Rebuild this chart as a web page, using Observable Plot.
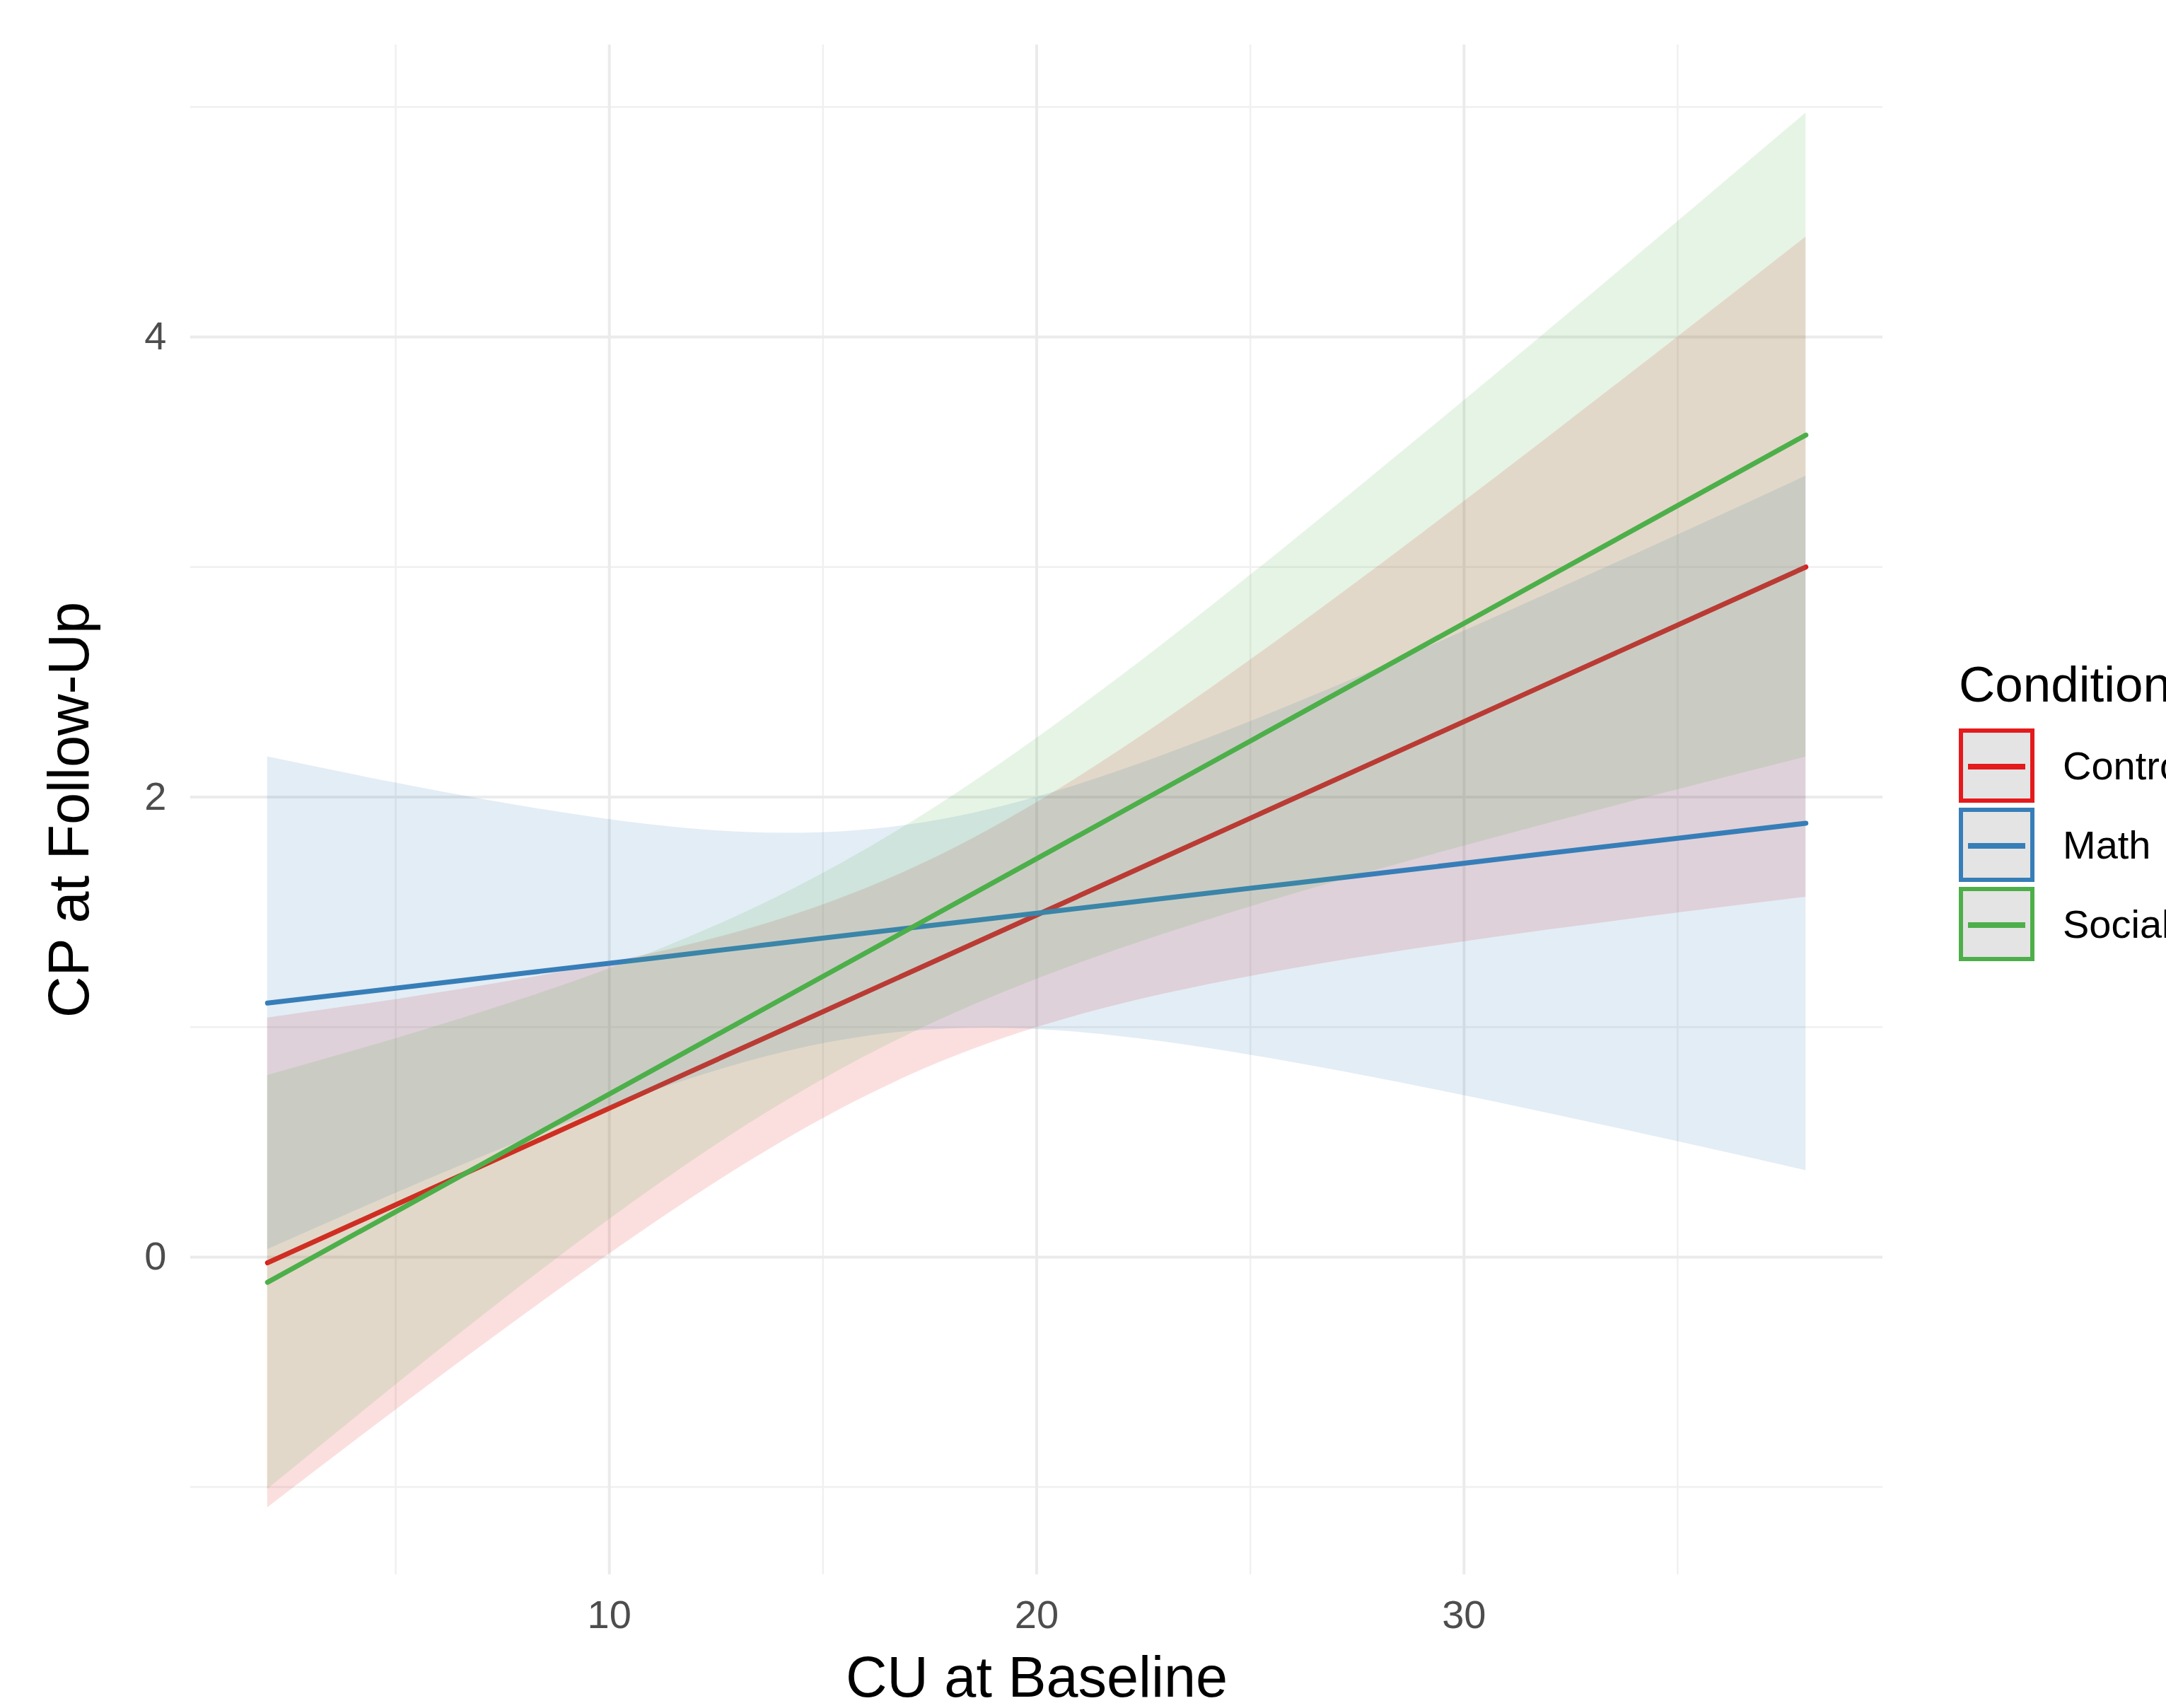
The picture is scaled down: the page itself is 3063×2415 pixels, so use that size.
<!DOCTYPE html>
<html>
<head>
<meta charset="utf-8">
<script src="https://cdn.jsdelivr.net/npm/d3@7"></script>
<script src="https://cdn.jsdelivr.net/npm/@observablehq/plot@0.6"></script>
<style>
  html, body { margin: 0; padding: 0; background: #ffffff; overflow: hidden; width: 3063px; height: 2415px; }
  #wrap { position: relative; width: 3063px; height: 2415px; font-family: "Liberation Sans", Arial, Helvetica, sans-serif; }
  #chart svg { display: block; }
  #legend { position: absolute; left: 2770px; top: 928px; white-space: nowrap; color: #000; }
  #legend .title { font-size: 71px; line-height: 80px; height: 80px; margin-bottom: 22px; }
  #legend .item { display: flex; align-items: center; height: 105px; margin-bottom: 7px; }
  #legend .key { position: relative; box-sizing: border-box; width: 107px; height: 105px; border: 6px solid; background: #e4e4e4; }
  #legend .key span { position: absolute; left: 7px; right: 7px; top: 44px; height: 8px; }
  #legend .lab { font-size: 56px; margin-left: 40px; }
</style>
</head>
<body>
<div id="wrap"><div id="chart"></div><div id="legend"></div></div>
<script>
// ---- data ----
const conditions = ["Control", "Math", "Social"];
const colors = ["#E41A1C", "#377EB8", "#4DAF4A"];

const cu = [2, 5, 8, 11, 14, 17, 20, 23, 26, 29, 32, 35, 38];

const controlFit   = [-0.025, 0.227, 0.479, 0.731, 0.983, 1.235, 1.487, 1.740, 1.992, 2.244, 2.496, 2.748, 3.000];
const controlLower = [-1.09, -0.665, -0.252, 0.142, 0.497, 0.788, 0.998, 1.145, 1.254, 1.344, 1.423, 1.496, 1.565];
const controlUpper = [1.04, 1.12, 1.21, 1.32, 1.469, 1.682, 1.976, 2.335, 2.73, 3.144, 3.569, 4.0, 4.435];

const mathFit   = [1.104, 1.169, 1.234, 1.299, 1.365, 1.430, 1.495, 1.560, 1.625, 1.690, 1.756, 1.821, 1.886];
const mathLower = [0.033, 0.277, 0.509, 0.719, 0.887, 0.981, 0.99, 0.935, 0.846, 0.74, 0.624, 0.502, 0.376];
const mathUpper = [2.175, 2.061, 1.959, 1.879, 1.843, 1.879, 2.0, 2.185, 2.404, 2.64, 2.888, 3.14, 3.396];

const socialFit   = [-0.11, 0.197, 0.504, 0.811, 1.118, 1.425, 1.732, 2.039, 2.346, 2.653, 2.96, 3.267, 3.574];
const socialLower = [-1.01, -0.556, -0.116, 0.297, 0.664, 0.967, 1.208, 1.406, 1.578, 1.736, 1.887, 2.032, 2.174];
const socialUpper = [0.79, 0.95, 1.124, 1.325, 1.572, 1.883, 2.256, 2.672, 3.114, 3.57, 4.033, 4.502, 4.974];

const xTicks = [10, 20, 30];
const xMinor = [5, 15, 25, 35];
const yTicks = [0, 2, 4];
const yMinor = [-1, 1, 3, 5];

const xTitle = "CU at Baseline";
const yTitle = "CP at Follow-Up";
const legendTitle = "Condition";

// ---- build table ----
const series = {
  Control: [controlFit, controlLower, controlUpper],
  Math: [mathFit, mathLower, mathUpper],
  Social: [socialFit, socialLower, socialUpper]
};
const rows = conditions.flatMap(c => cu.map((x, i) => ({
  condition: c, cu: x, fit: series[c][0][i], lower: series[c][1][i], upper: series[c][2][i]
})));

const groupMarks = conditions.flatMap((c, i) => {
  const d = rows.filter(r => r.condition === c);
  return [
    Plot.areaY(d, {x: "cu", y1: "lower", y2: "upper", fill: colors[i], fillOpacity: 0.14, curve: "natural"}),
    Plot.lineY(d, {x: "cu", y: "fit", stroke: colors[i], strokeWidth: 7})
  ];
});

const chart = Plot.plot({
  width: 3063,
  height: 2415,
  marginLeft: 269,
  marginRight: 401,
  marginTop: 63,
  marginBottom: 189,
  style: {fontFamily: "'Liberation Sans', Arial, Helvetica, sans-serif", background: "#ffffff", overflow: "visible"},
  x: {domain: [0.2, 39.8]},
  y: {domain: [-1.381, 5.27]},
  marks: [
    Plot.gridX(xMinor, {stroke: "#f0f0f0", strokeOpacity: 1, strokeWidth: 2.5}),
    Plot.gridY(yMinor, {stroke: "#f0f0f0", strokeOpacity: 1, strokeWidth: 2.5}),
    Plot.gridX(xTicks, {stroke: "#ebebeb", strokeOpacity: 1, strokeWidth: 4}),
    Plot.gridY(yTicks, {stroke: "#ebebeb", strokeOpacity: 1, strokeWidth: 4}),
    ...groupMarks,
    Plot.axisX(xTicks, {tickSize: 0, tickPadding: 36, fontSize: 56, color: "#4d4d4d", label: null, tickFormat: d => String(d)}),
    Plot.axisY(yTicks, {tickSize: 0, tickPadding: 34, fontSize: 56, color: "#4d4d4d", label: null, tickFormat: d => String(d)}),
    Plot.text([xTitle], {text: d => d, frameAnchor: "bottom", textAnchor: "middle", lineAnchor: "bottom", dy: 172, fontSize: 81, fill: "#000"}),
    Plot.text([yTitle], {text: d => d, frameAnchor: "left", rotate: -90, textAnchor: "middle", lineAnchor: "top", dx: -202, fontSize: 81, fill: "#000"})
  ]
});
document.getElementById("chart").appendChild(chart);

// ---- legend ----
const legend = document.getElementById("legend");
const t = document.createElement("div");
t.className = "title";
t.textContent = legendTitle;
legend.appendChild(t);
conditions.forEach((c, i) => {
  const item = document.createElement("div");
  item.className = "item";
  const key = document.createElement("div");
  key.className = "key";
  key.style.borderColor = colors[i];
  const ln = document.createElement("span");
  ln.style.background = colors[i];
  key.appendChild(ln);
  const lab = document.createElement("div");
  lab.className = "lab";
  lab.textContent = c;
  item.appendChild(key);
  item.appendChild(lab);
  legend.appendChild(item);
});
</script>
</body>
</html>
